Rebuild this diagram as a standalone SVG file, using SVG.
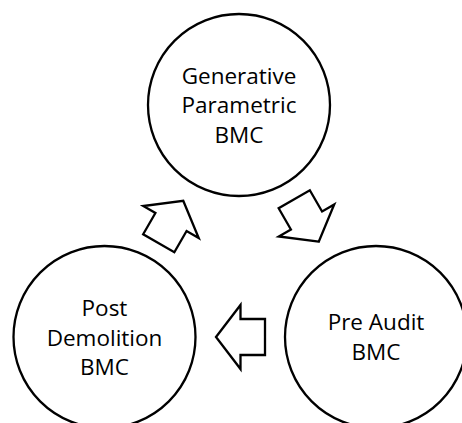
<svg xmlns="http://www.w3.org/2000/svg" width="462" height="423" viewBox="0 0 462 423">
<style>
.node circle{fill:#fff;stroke:#000;stroke-width:2.3}
.node text{font-family:"Open Sans","Liberation Sans",Arial,sans-serif;font-size:22.5px;fill:#000;text-anchor:middle}
.arrow{fill:#fff;stroke:#000;stroke-width:2.3;stroke-linejoin:miter}
</style>
<defs>
<path id="blk" d="M -24.5,0 L 0,-32 L 0,-18 L 24.5,-18 L 24.5,18 L 0,18 L 0,32 Z"/>
</defs>
<rect width="462" height="423" fill="#fff"/>
<g id="connectors">
<use href="#blk" class="arrow" transform="translate(240.5,337)"/>
<use href="#blk" class="arrow" transform="translate(171,222) rotate(120)"/>
<use href="#blk" class="arrow" transform="translate(306.5,220.5) rotate(-120)"/>
</g>
<g id="node-generative" class="node">
<circle cx="239" cy="105" r="91"/>
<text x="239" y="83.5">Generative</text>
<text x="239" y="113">Parametric</text>
<text x="239" y="142.5">BMC</text>
</g>
<g id="node-postdemolition" class="node">
<circle cx="104.5" cy="337" r="91"/>
<text x="104.5" y="316">Post</text>
<text x="104.5" y="345.5">Demolition</text>
<text x="104.5" y="375">BMC</text>
</g>
<g id="node-preaudit" class="node">
<circle cx="376" cy="337" r="91"/>
<text x="376" y="330">Pre Audit</text>
<text x="376" y="359.5">BMC</text>
</g>
</svg>
